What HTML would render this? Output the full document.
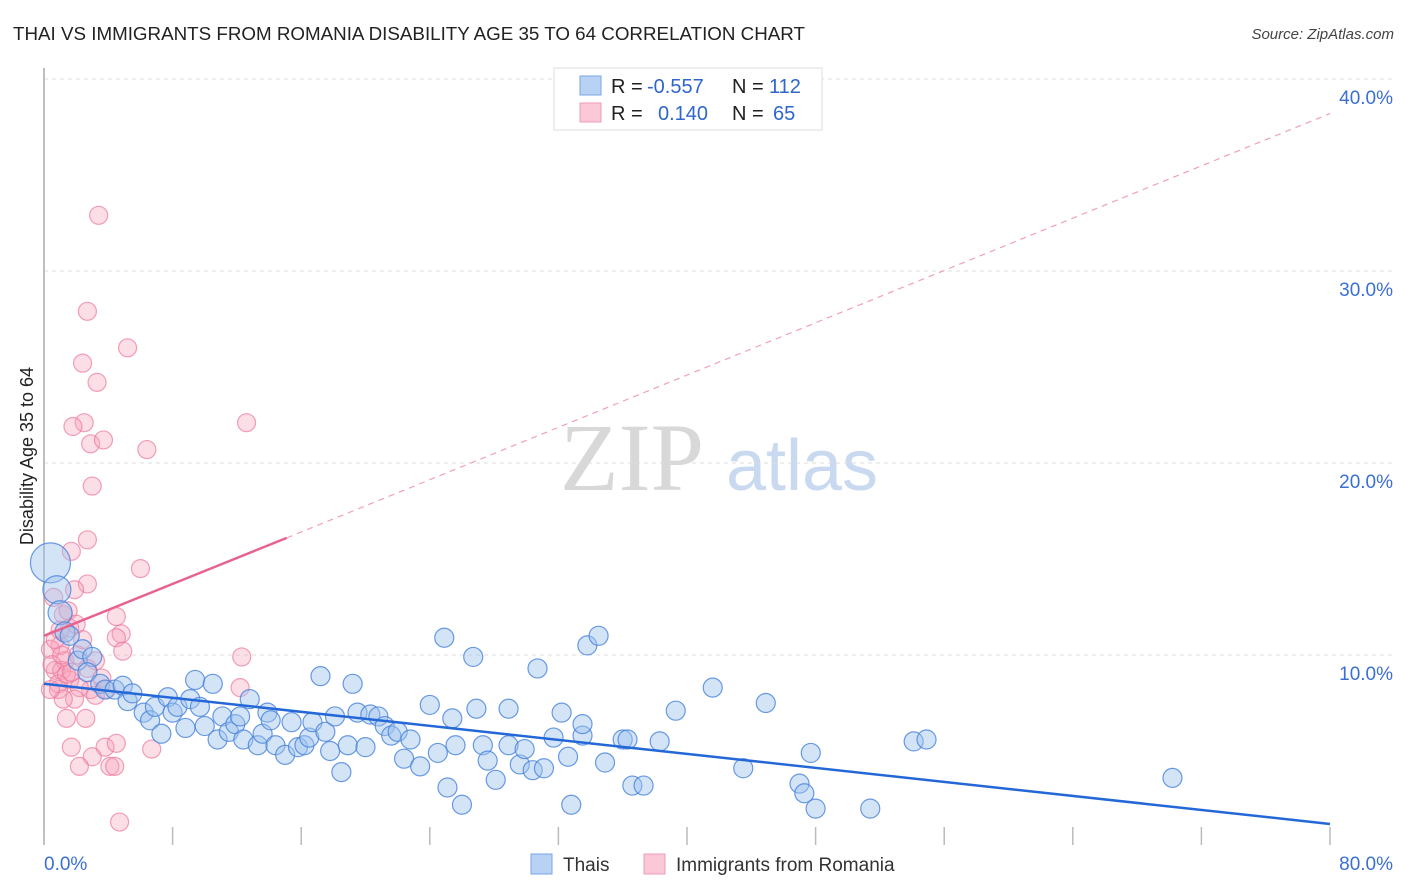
<!DOCTYPE html>
<html><head><meta charset="utf-8"><style>
body{margin:0;background:#fff;font-family:"Liberation Sans",sans-serif;}
</style></head><body>
<svg id="chart" width="1406" height="892" xmlns="http://www.w3.org/2000/svg" style="display:block">
<text x="13" y="40" font-size="18.5" fill="#222" textLength="792" lengthAdjust="spacingAndGlyphs">THAI VS IMMIGRANTS FROM ROMANIA DISABILITY AGE 35 TO 64 CORRELATION CHART</text>
<text x="1394" y="39" font-size="15" fill="#444" font-style="italic" text-anchor="end">Source: ZipAtlas.com</text>
<g>
<text x="632" y="490" font-size="96" font-family="Liberation Serif,serif" fill="#d8d8d8" text-anchor="middle">ZIP</text>
<text x="802" y="490" font-size="72" fill="#c9d9f0" text-anchor="middle">atlas</text>
</g>
<g id="grid"></g>
<g id="marks"></g>
<g>
<rect x="554" y="68" width="268" height="62" fill="#fff" stroke="#ddd"/>
<rect x="580" y="76" width="21" height="19" fill="#b8d2f4" stroke="#7aa6e4"/>
<rect x="580" y="103" width="21" height="19" fill="#fac8d6" stroke="#f09ab4"/>
<g font-size="20" fill="#222">
<text x="611" y="93">R =</text>
<text x="647" y="93" fill="#2f66cc">-0.557</text>
<text x="732" y="93">N =</text>
<text x="769" y="93" fill="#2f66cc">112</text>
<text x="611" y="120">R =</text>
<text x="658" y="120" fill="#2f66cc">0.140</text>
<text x="732" y="120">N =</text>
<text x="773" y="120" fill="#2f66cc">65</text>
</g>
</g>
<g>
<rect x="531" y="854" width="21" height="20" fill="#b8d2f4" stroke="#7aa6e4"/>
<text x="563" y="871" font-size="19" fill="#333">Thais</text>
<rect x="644" y="854" width="21" height="20" fill="#fac8d6" stroke="#f09ab4"/>
<text x="676" y="871" font-size="19" fill="#333">Immigrants from Romania</text>
</g>
<text transform="translate(33,456) rotate(-90)" font-size="18" fill="#222" text-anchor="middle">Disability Age 35 to 64</text>
</svg>
<script>
const yTicks=[10,20,30,40];
const yTickLabels=["10.0%","20.0%","30.0%","40.0%"];
const xTickVals=[0,8,16,24,32,40,48,56,64,72,80];
const xEndLabels=["0.0%","80.0%"];
const thaiX=[0.4,0.8,1.0,1.3,1.6,2.1,2.4,3.0,2.7,3.5,3.8,4.4,4.9,5.2,5.5,6.2,6.6,6.9,7.3,7.7,8.0,8.3,8.8,9.1,9.4,9.7,10.0,10.5,10.8,11.1,11.5,11.9,12.2,12.4,12.8,13.3,13.6,13.9,14.1,14.4,15.0,15.4,15.8,16.2,16.5,16.7,17.2,17.5,17.8,18.1,18.5,18.9,19.2,19.5,20.0,20.3,20.8,21.2,21.6,22.0,22.4,22.8,23.4,24.0,24.5,24.9,25.1,25.4,25.6,26.0,26.7,26.9,27.3,27.6,28.1,28.9,28.9,29.6,29.9,30.4,30.7,31.1,31.7,32.2,32.6,32.8,33.5,33.5,33.8,34.5,34.9,36.0,36.3,36.6,37.3,38.3,39.3,41.6,43.5,44.9,47.0,47.3,47.7,48.0,51.4,54.1,54.9,70.2];
const thaiY=[14.8,13.4,12.2,11.2,11.0,9.7,10.3,9.9,9.1,8.5,8.2,8.2,8.4,7.6,8.0,7.0,6.6,7.3,5.9,7.8,7.0,7.3,6.2,7.7,8.7,7.3,6.3,8.5,5.6,6.8,6.0,6.4,6.8,5.6,7.7,5.3,5.9,7.0,6.6,5.3,4.8,6.5,5.2,5.3,5.7,6.5,8.9,6.0,5.0,6.8,3.9,5.3,8.5,7.0,5.2,6.9,6.8,6.3,5.8,6.0,4.6,5.6,4.2,7.4,4.9,10.9,3.1,6.7,5.3,2.2,9.9,7.2,5.3,4.5,3.5,5.3,7.2,4.3,5.1,4.0,9.3,4.1,5.7,7.0,4.7,2.2,5.8,6.4,10.5,11.0,4.4,5.6,5.6,3.2,3.2,5.5,7.1,8.3,4.1,7.5,3.3,2.8,4.9,2.0,2.0,5.5,5.6,3.6];
const thaiSize=[20,14,12,10];
const romX=[3.4,2.7,5.2,2.4,3.3,2.5,1.8,2.9,3.7,6.4,12.6,3.0,2.7,1.7,6.0,2.7,1.9,4.5,1.2,4.8,1.6,4.5,4.9,12.3,1.0,0.4,1.3,2.1,0.7,1.1,1.6,2.9,2.2,3.2,0.9,0.5,1.1,12.2,1.4,2.6,1.7,3.8,4.5,3.0,2.2,4.1,4.4,6.7,4.7,1.9,0.7,1.5,0.6,1.4,0.9,2.4,1.2,3.2,1.7,2.7,3.6,0.4,2.0,1.0,3.9];
const romY=[32.9,27.9,26.0,25.2,24.2,22.1,21.9,21.0,21.2,20.7,22.1,18.8,16.0,15.4,14.5,13.7,13.4,12.0,12.1,11.1,11.4,10.9,10.2,9.9,10.5,10.3,9.7,10.0,9.2,9.2,8.7,8.2,8.3,7.9,8.5,9.5,10.0,8.3,6.7,6.7,5.2,5.2,5.4,4.7,4.2,4.2,4.2,5.1,1.3,7.7,10.8,12.3,13.0,9.0,8.2,10.8,7.7,9.7,9.1,9.3,8.8,8.2,11.6,11.3,8.2];
const thaiTrend=[[0,8.5],[80,1.2]];
const romTrend=[[0,11.0],[15.1,16.1],[80,38.2]];

const X0=44,X1=1330,Y0=847,PXPER=19.2;
const sx=v=>X0+(v/80)*(X1-X0);
const sy=v=>Y0-v*PXPER;
const NS="http://www.w3.org/2000/svg";
const grid=document.getElementById('grid'),marks=document.getElementById('marks');
function mk(tag,attrs,parent){const e=document.createElementNS(NS,tag);for(const k in attrs)e.setAttribute(k,attrs[k]);parent.appendChild(e);return e;}
yTicks.forEach((t,i)=>{
 const l=mk('line',{x1:X0,x2:1393,y1:sy(t),y2:sy(t),stroke:'#ddd','stroke-dasharray':'4,4'},grid);
 
 
 const tx=mk('text',{x:1393,y:sy(t)+25,'font-size':19,fill:'#3b6fd4','text-anchor':'end'},grid);
 tx.textContent=yTickLabels[i];
 
 
});
const ax=mk('line',{x1:X0,x2:X0,y1:68,y2:845,stroke:'#aaa','stroke-width':1.5},grid);


xTickVals.forEach(v=>{
 const t=mk('line',{x1:sx(v),x2:sx(v),y1:827,y2:845,stroke:'#bbb','stroke-width':1.5},grid);
 
 
});
[[0,'start',44],[80,'end',1393]].forEach((d,i)=>{
 const t=mk('text',{x:d[2],y:870,'font-size':19,fill:'#3b6fd4','text-anchor':d[1]},grid);
 t.textContent=xEndLabels[i];
 
 
});
romX.forEach((x,i)=>{
 const c=mk('circle',{cx:sx(x),cy:sy(romY[i]),r:9,fill:'rgba(246,160,186,0.35)',stroke:'rgba(236,120,155,0.7)','stroke-width':1.2},marks);
 
 
});
thaiX.forEach((x,i)=>{
 const r=i<thaiSize.length?thaiSize[i]:9.5;
 const c=mk('circle',{cx:sx(x),cy:sy(thaiY[i]),r:r,fill:'rgba(160,196,238,0.45)',stroke:'rgba(70,130,220,0.8)','stroke-width':1.2},marks);
 
 
});
const tl=mk('line',{x1:sx(thaiTrend[0][0]),y1:sy(thaiTrend[0][1]),x2:sx(thaiTrend[1][0]),y2:sy(thaiTrend[1][1]),stroke:'#2468d8','stroke-width':2.5},marks);


const rl=mk('line',{x1:sx(romTrend[0][0]),y1:sy(romTrend[0][1]),x2:sx(romTrend[1][0]),y2:sy(romTrend[1][1]),stroke:'#e8628e','stroke-width':2.5},marks);


const rd=mk('line',{x1:sx(romTrend[1][0]),y1:sy(romTrend[1][1]),x2:sx(romTrend[2][0]),y2:sy(romTrend[2][1]),stroke:'#f0a0b8','stroke-width':1.2,'stroke-dasharray':'6,5'},marks);


</script>
</body></html>
